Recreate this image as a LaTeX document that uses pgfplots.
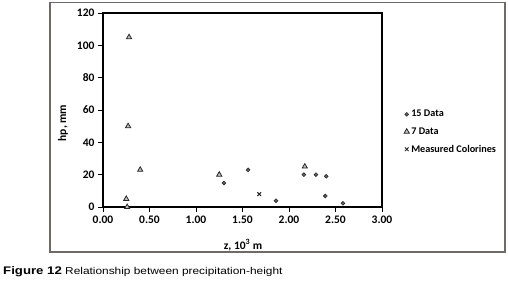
\documentclass[border=0pt]{standalone}
\usepackage{fontspec}
\setmainfont{Carlito}
\newfontfamily\capfont[FakeStretch=1.2]{Liberation Sans}
\usepackage{pgfplots}
\pgfplotsset{compat=1.18}
\definecolor{framegray}{RGB}{111,106,102}
\begin{document}
\begin{tikzpicture}[x=1pt,y=1pt]
\useasboundingbox (0,0) rectangle (508,284);
\draw[framegray, line width=1.3pt] (50,281.5) rectangle (505,32);
\begin{axis}[
  at={(103pt,77pt)}, anchor=south west,
  width=279pt, height=194pt, scale only axis,
  xmin=0, xmax=3, ymin=0, ymax=120,
  xtick={0,0.5,1,1.5,2,2.5,3},
  ytick={0,20,40,60,80,100,120},
  xticklabels={0.00,0.50,1.00,1.50,2.00,2.50,3.00},
  tick align=outside, major tick length=5pt,
  axis line style={line width=2.2pt, black},
  tick style={black, line width=0.9pt},
  xtick pos=bottom, ytick pos=left,
  ticklabel style={font=\fontsize{11.5}{13}\selectfont\bfseries},
  /pgf/number format/assume math mode=true,
  label style={font=\fontsize{11.5}{13}\selectfont\bfseries},
  xlabel={z, 10\textsuperscript{3} m},
  ylabel={hp, mm},
  xlabel style={at={(axis description cs:0.502,-0.196)}, anchor=center},
  ylabel style={at={(axis description cs:-0.143,0.433)}, anchor=center},
  legend style={at={(1.075,0.515)}, anchor=north west, draw=none, fill=none,
    font=\fontsize{10.2}{12}\selectfont\bfseries, row sep=5.2pt, inner sep=1pt},
  legend cell align=left,
  legend image post style={xshift=2pt},
  clip=false,
]
\addplot[only marks, mark=*, mark size=1.9pt, mark options={fill=black!60, draw=black!85, line width=0.6pt}]
 coordinates {(1.30,14.8) (1.56,23) (1.86,3.9) (2.16,20) (2.29,20) (2.40,19) (2.39,6.8) (2.58,2.3)};
\addlegendentry{15 Data}
\addplot[only marks, mark=triangle*, mark size=3pt, mark options={fill=black!25, draw=black!85, line width=0.8pt}]
 coordinates {(0.28,105) (0.27,50) (0.40,23) (0.25,5) (0.26,0) (1.25,20) (2.17,25)};
\addlegendentry{7 Data}
\addplot[only marks, mark=x, mark size=2.6pt, mark options={draw=black!85, line width=1pt}]
 coordinates {(1.68,8)};
\addlegendentry{Measured Colorines}
\end{axis}
\node[anchor=base west, inner sep=0pt] at (3,10) {\capfont\fontsize{11}{13}\selectfont\bfseries Figure 12\mdseries\fontsize{9.9}{13}\selectfont{} Relationship between precipitation-height};
\end{tikzpicture}
\end{document}
